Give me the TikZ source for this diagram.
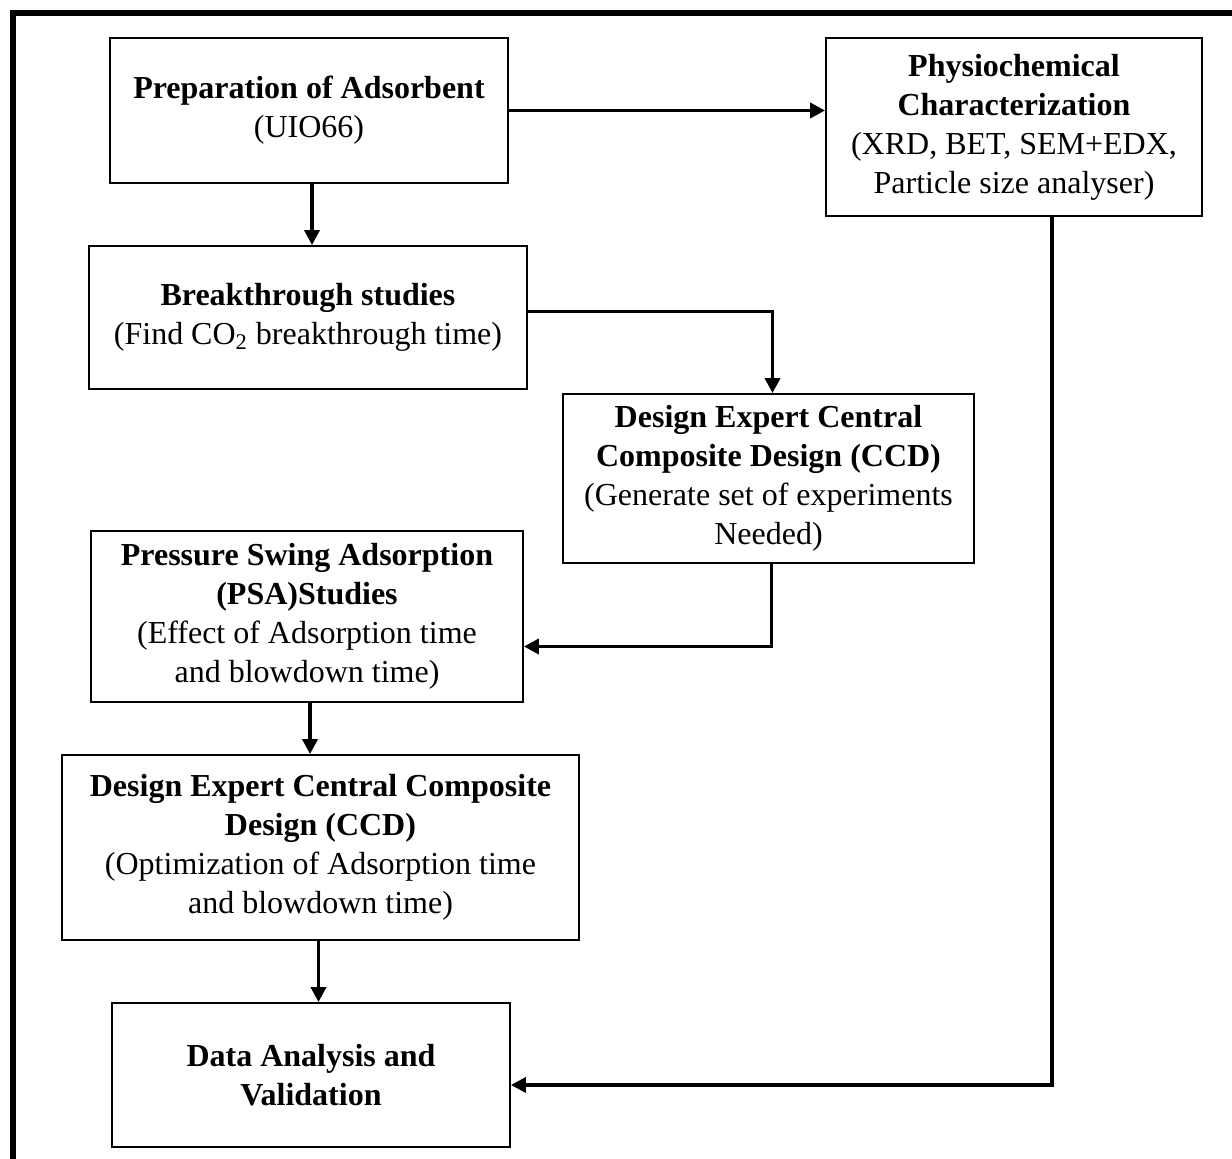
\documentclass[tikz,border=0pt]{standalone}
\usepackage{fontspec}
\setmainfont{Liberation Serif}
\usetikzlibrary{arrows.meta}
\begin{document}
\begin{tikzpicture}[x=0.5pt,y=-0.5pt,
  box/.style={draw=black, line width=0.9pt, rectangle, inner sep=0pt, align=center,
    font=\fontsize{16}{19.5}\selectfont},
  arr/.style={line width=1.8pt, -{Triangle[length=7.5pt,width=7.5pt]}},
  frame/.style={line width=3pt}]
\useasboundingbox (0,0) rectangle (1232,1159);
\draw[frame] (12.5,1159) -- (12.5,13) -- (1232,13);

\node[box, minimum width=199pt, minimum height=72.5pt] (b1) at (309,110.5)
  {\textbf{Preparation of Adsorbent}\\(UIO66)};
\node[box, minimum width=188pt, minimum height=89pt] (b2) at (1014,127)
  {\textbf{Physiochemical}\\\textbf{Characterization}\\(XRD, BET, SEM+EDX,\\Particle size analyser)};
\node[box, minimum width=219pt, minimum height=71.5pt] (b3) at (308,317.5)
  {\textbf{Breakthrough studies}\\(Find CO\textsubscript{2} breakthrough time)};
\node[box, minimum width=205.5pt, minimum height=84.5pt] (b4) at (768.5,478.5)
  {\textbf{Design Expert Central}\\\textbf{Composite Design (CCD)}\\(Generate set of experiments\\Needed)};
\node[box, minimum width=216pt, minimum height=85.5pt] (b5) at (307,616.5)
  {\textbf{Pressure Swing Adsorption}\\\textbf{(PSA)Studies}\\(Effect of Adsorption time\\and blowdown time)};
\node[box, minimum width=258.5pt, minimum height=92.5pt] (b6) at (320.5,847.5)
  {\textbf{Design Expert Central Composite}\\\textbf{Design (CCD)}\\(Optimization of Adsorption time\\and blowdown time)};
\node[box, minimum width=199pt, minimum height=72pt] (b7) at (311,1075)
  {\textbf{Data Analysis and}\\\textbf{Validation}};

\draw[arr] (b1.east) -- (b2.west |- b1.east);
\draw[arr] ([xshift=1.5pt]b1.south) -- ([xshift=1.5pt]b1.south |- b3.north);
\draw[arr] ([yshift=3pt]b3.east) -| ([xshift=2pt]b4.north);
\draw[arr] ([xshift=1.5pt]b4.south) |- ([yshift=-15pt]b5.east);
\draw[arr] ([xshift=1.5pt]b5.south) -- ([xshift=1.5pt]b5.south |- b6.north);
\draw[arr] ([xshift=-1pt]b6.south) -- ([xshift=-1pt]b6.south |- b7.north);
\draw[arr] ([xshift=19pt]b2.south) |- ([yshift=-5pt]b7.east);
\end{tikzpicture}
\end{document}
